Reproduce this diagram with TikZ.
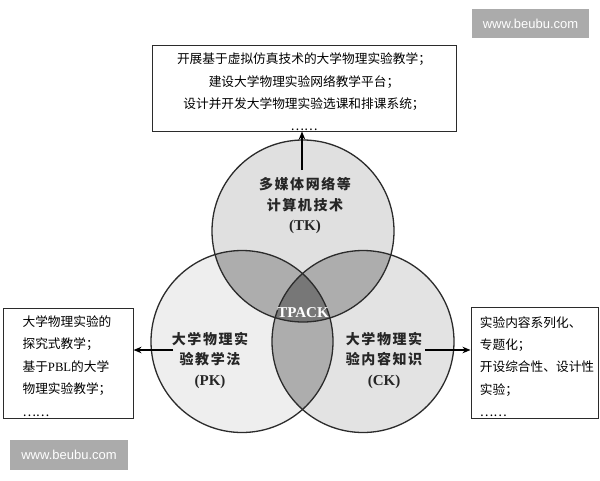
\documentclass[tikz,border=0pt]{standalone}
\usepackage{fontspec}
\setmainfont{Liberation Serif}
\newfontfamily\cjk{Noto Sans CJK SC}
\newfontfamily\cjkc[LetterSpace=11]{Noto Sans CJK SC}
\newfontfamily\wmfont{Liberation Sans}
\usetikzlibrary{arrows.meta}
\definecolor{tkfill}{HTML}{E0E0E0}
\definecolor{pkfill}{HTML}{EEEEEE}
\definecolor{ckfill}{HTML}{E3E3E3}
\definecolor{twofill}{HTML}{ADADAD}
\definecolor{allfill}{HTML}{777777}
\definecolor{edge}{HTML}{2B2B2B}
\definecolor{wmgray}{HTML}{ABABAB}
\begin{document}
\begin{tikzpicture}[x=1pt,y=-1pt,
  boxframe/.style={draw=edge, line width=1pt, inner sep=0pt},
  boxtext/.style={font=\cjk\fontsize{12.7}{22.4}\selectfont, inner sep=0pt, text=black},
  clabel/.style={font=\cjkc\bfseries\fontsize{14}{20.5}\selectfont, align=center, inner sep=0pt, text=black!85},
  latinlab/.style={},
  arr/.style={draw=black, line width=1.6pt, -{Stealth[length=8pt,width=6.5pt]}},
  ring/.style={draw=edge, line width=1.3pt},
  wm/.style={fill=wmgray, text=white, font=\wmfont\fontsize{13}{13}\selectfont, inner sep=0pt}]
\useasboundingbox (0,0) rectangle (600,480);
\fill[white] (0,0) rectangle (600,480);

\coordinate (T) at (303,231);
\coordinate (P) at (242,341.5);
\coordinate (C) at (363,341.5);
\def\rr{91pt}

% circle fills
\fill[tkfill] (T) circle[radius=\rr];
\fill[pkfill] (P) circle[radius=\rr];
\fill[ckfill] (C) circle[radius=\rr];
\begin{scope}
  \clip (T) circle[radius=\rr];
  \fill[twofill] (P) circle[radius=\rr];
  \fill[twofill] (C) circle[radius=\rr];
\end{scope}
\begin{scope}
  \clip (P) circle[radius=\rr];
  \fill[twofill] (C) circle[radius=\rr];
\end{scope}
\begin{scope}
  \clip (T) circle[radius=\rr];
  \clip (P) circle[radius=\rr];
  \fill[allfill] (C) circle[radius=\rr];
\end{scope}
\draw[ring] (T) circle[radius=\rr];
\draw[ring] (P) circle[radius=\rr];
\draw[ring] (C) circle[radius=\rr];

% circle labels
\node[clabel] (tkl) at (305,206) {多媒体网络等\\计算机技术\\{\rmfamily\bfseries\fontsize{15}{20.5}\selectfont (TK)}};
\node[clabel] (pkl) at (210,360) {大学物理实\\验教学法\\{\rmfamily\bfseries\fontsize{15}{20.5}\selectfont (PK)}};
\node[clabel] (ckl) at (384,360) {大学物理实\\验内容知识\\{\rmfamily\bfseries\fontsize{15}{20.5}\selectfont (CK)}};
\node[font=\rmfamily\bfseries\fontsize{15}{15}\selectfont, text=white, inner sep=0pt] (tpack) at (303,313) {TPACK};

% boxes
\node[boxframe, minimum width=304pt, minimum height=86pt] (tbox) at (304,88) {};
\node[boxtext, align=center] (ttext) at (304,92) {开展基于虚拟仿真技术的大学物理实验教学；\\建设大学物理实验网络教学平台；\\设计并开发大学物理实验选课和排课系统；\\……};

\node[boxframe, minimum width=130pt, minimum height=110pt] (lbox) at (68,363) {};
\node[boxtext, align=left] (ltext) at (67,366) {大学物理实验的\\探究式教学；\\基于{\rmfamily PBL}的大学\\物理实验教学；\\……};

\node[boxframe, minimum width=127pt, minimum height=111pt] (rbox) at (534.5,362.5) {};
\node[boxtext, align=left] (rtext) at (537,366.5) {实验内容系列化、\\专题化；\\开设综合性、设计性\\实验；\\……};

% connectors
\coordinate (ta) at (302,170);
\coordinate (la) at (173,350);
\coordinate (ra) at (425,350);
\draw[arr] (ta) -- (ta |- tbox.south);
\draw[arr] (la) -- (la -| lbox.east);
\draw[arr] (ra) -- (ra -| rbox.west);

% watermarks
\node[wm, minimum width=117pt, minimum height=29pt] (wm1) at (530.5,23.5) {www.beubu.com};
\node[wm, minimum width=118pt, minimum height=30pt] (wm2) at (69,455) {www.beubu.com};
\end{tikzpicture}
\end{document}
